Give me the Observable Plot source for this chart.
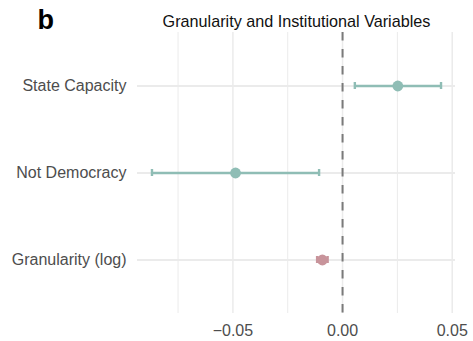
<!DOCTYPE html>
<html>
<head>
<meta charset="utf-8">
<script src="https://cdn.jsdelivr.net/npm/d3@7"></script>
<script src="https://cdn.jsdelivr.net/npm/@observablehq/plot@0.6"></script>
<style>
  html, body { margin: 0; padding: 0; background: #fff; }
</style>
</head>
<body>
<div id="chart"></div>
<script>
// Coefficient estimates with 95% confidence intervals
const variables = ["State Capacity", "Not Democracy", "Granularity (log)"];
const estimates = [0.0252, -0.0488, -0.0092];
const lower = [0.0056, -0.0869, -0.0116];
const upper = [0.0449, -0.0107, -0.0068];
const groups = ["institutional", "institutional", "granularity"];

const xTicks = [-0.05, 0, 0.05];
const xMinorTicks = [-0.075, -0.025, 0.025];

const rows = variables.map((v, i) => ({
  variable: v, est: estimates[i], lo: lower[i], hi: upper[i], group: groups[i]
}));

const palette = {institutional: "#8fbdb5", granularity: "#c8949b"};
const grid = "#ebebeb";
// error-bar caps are short ticks inside each ~88px band
const capInset = 40;

const chart = Plot.plot({
  width: 473,
  height: 341,
  marginTop: 32,
  marginBottom: 28,
  marginLeft: 137,
  marginRight: 18,
  style: {fontFamily: "Liberation Sans, Arial, Helvetica, sans-serif", fontSize: "16px", background: "#fff"},
  x: {domain: [-0.0935, 0.0515], ticks: xTicks, tickFormat: d3.format(".2f")},
  y: {type: "band", domain: variables, paddingInner: 0, paddingOuter: 0.1},
  marks: [
    // panel grid
    Plot.gridX(xMinorTicks, {stroke: grid, strokeOpacity: 1, strokeWidth: 1}),
    Plot.gridX(xTicks, {stroke: grid, strokeOpacity: 1, strokeWidth: 1.5}),
    Plot.ruleY(variables, {y: d => d, stroke: grid, strokeWidth: 2}),
    // reference line at zero
    Plot.ruleX([0], {stroke: "#7a7a7a", strokeWidth: 2, strokeDasharray: "8.5,8.5"}),
    // confidence intervals
    Plot.ruleY(rows, {y: "variable", x1: "lo", x2: "hi", stroke: d => palette[d.group], strokeWidth: 2.6}),
    Plot.tickX(rows, {x: "lo", y: "variable", stroke: d => palette[d.group], strokeWidth: 2.4,
      insetTop: capInset, insetBottom: capInset}),
    Plot.tickX(rows, {x: "hi", y: "variable", stroke: d => palette[d.group], strokeWidth: 2.4,
      insetTop: capInset, insetBottom: capInset}),
    Plot.dot(rows, {x: "est", y: "variable", r: 5.4, fill: d => palette[d.group], stroke: "none"}),
    // axes
    Plot.axisX({ticks: xTicks, tickFormat: d3.format(".2f"), tickSize: 0, tickPadding: 11,
      fontSize: 16, color: "#4d4d4d", label: null}),
    Plot.axisY({tickSize: 0, tickPadding: 11, fontSize: 16, color: "#4d4d4d", label: null}),
    // title and panel letter
    Plot.text(["Granularity and Institutional Variables"], {
      frameAnchor: "top", text: d => d, dy: -17.5, fontSize: 16.2, fill: "#111"
    }),
    Plot.text(["b"], {
      frameAnchor: "top-left", text: d => d, dx: -100, dy: -22.5, textAnchor: "start",
      fontSize: 27, fontWeight: "bold", fill: "#000"
    })
  ]
});

document.getElementById("chart").appendChild(chart);
</script>
</body>
</html>
